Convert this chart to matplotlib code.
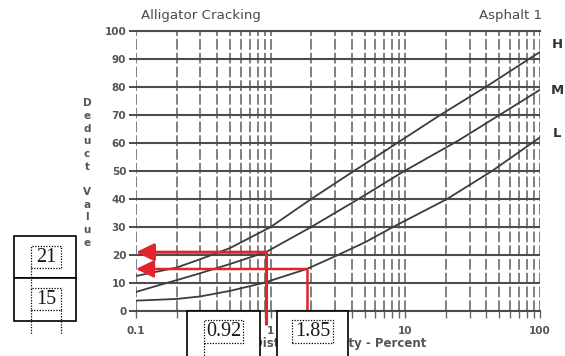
import matplotlib
matplotlib.use("Agg")
import matplotlib.pyplot as plt
from matplotlib.patches import Rectangle
from matplotlib.lines import Line2D
from matplotlib.ticker import LogLocator, NullFormatter, FixedLocator, FixedFormatter

# ---- data -------------------------------------------------------------
title_left = "Alligator Cracking"
title_right = "Asphalt 1"
x_label = "Distress Density - Percent"
y_label = "Deduct Value"

x_ticks = [0.1, 1, 10, 100]
x_tick_labels = ["0.1", "1", "10", "100"]
y_ticks = [0, 10, 20, 30, 40, 50, 60, 70, 80, 90, 100]

# deduct curves by severity (density %, deduct value)
density_H = [0.1, 0.2, 0.3, 0.5, 1, 2, 4, 8.7, 17.5, 41, 84, 100]
deduct_H = [12.5, 15.5, 18.5, 22.5, 30, 40, 49.5, 60, 69.5, 80.5, 90.2, 92.5]
density_M = [0.1, 0.15, 0.2, 0.3, 0.5, 0.92, 2, 4.6, 9.6, 25, 50, 100]
deduct_M = [6.8, 9.3, 11, 13.5, 16.8, 21, 30, 40.3, 49.7, 61, 70, 79]
density_L = [0.1, 0.2, 0.3, 0.5, 0.88, 1.85, 3, 5, 8.1, 20.4, 44, 100]
deduct_L = [3.7, 4.3, 5.2, 7.2, 10, 15, 19.5, 24.5, 30, 40, 50, 62]
severity_labels = ["H", "M", "L"]

# worked readings: density -> deduct value
read_density = [0.92, 1.85]
read_deduct = [21, 15]

# ---- figure -----------------------------------------------------------
W, H = 565, 356
fig = plt.figure(figsize=(W / 100, H / 100), dpi=100)
fig.patch.set_facecolor("white")


def fx(px):
    return px / W


def fy(py):
    return 1 - py / H


ax = fig.add_axes([fx(136), fy(311), fx(540) - fx(136), fy(31) - fy(311)])
ax.set_xscale("log")
ax.set_xlim(0.1, 100)
ax.set_ylim(0, 100)

grid_dark = "#4d4d4d"
text_grey = "#4a4a4a"
label_grey = "#555555"

# gridlines: solid horizontals, broken verticals
ax.set_yticks(y_ticks)
ax.yaxis.grid(True, color=grid_dark, lw=1.5)
ax.xaxis.set_major_locator(FixedLocator(x_ticks))
ax.xaxis.set_major_formatter(FixedFormatter(x_tick_labels))
ax.xaxis.set_minor_locator(LogLocator(base=10, subs=range(2, 10)))
ax.xaxis.set_minor_formatter(NullFormatter())
ax.xaxis.grid(True, which="both", color="#5e5e5e", lw=1.1, ls=(0, (7, 2)))
ax.set_axisbelow(True)

for side in ["left", "right"]:
    ax.spines[side].set_visible(False)
ax.spines["top"].set_color(grid_dark)
ax.spines["top"].set_linewidth(1.5)
ax.spines["bottom"].set_color(grid_dark)
ax.spines["bottom"].set_linewidth(1.5)

ax.tick_params(axis="x", which="both", direction="out", length=5, width=1.0,
               color="#666666", pad=6)
ax.tick_params(axis="y", direction="out", length=5, width=1.4,
               color=grid_dark, pad=2)
for lab in ax.get_xticklabels() + ax.get_yticklabels():
    lab.set_fontfamily("DejaVu Sans")
    lab.set_fontweight("bold")
    lab.set_fontsize(7.5)
    lab.set_color(label_grey)

# severity curves
for d, v in [(density_H, deduct_H), (density_M, deduct_M), (density_L, deduct_L)]:
    ax.plot(d, v, color="#3c3c3c", lw=1.3, zorder=3)

# reading arrows
red = "#e3242b"
for d, v, lw in zip(read_density, read_deduct, [2.2, 1.8]):
    ax.plot([d, d], [-5, v], color=red, lw=lw, clip_on=False, zorder=4,
            solid_capstyle="butt")
    ax.annotate("", xy=(ax.get_xlim()[0], v), xytext=(d, v),
                arrowprops=dict(arrowstyle="-|>,head_length=0.45,head_width=0.22",
                                color=red, lw=lw, shrinkA=0, shrinkB=0,
                                mutation_scale=24),
                zorder=5)

# titles and severity tags
fig.text(fx(141), fy(16), title_left, ha="left", va="center", fontsize=9.6,
         fontfamily="DejaVu Sans", color=text_grey)
fig.text(fx(542), fy(16), title_right, ha="right", va="center", fontsize=9.6,
         fontfamily="DejaVu Sans", color=text_grey)
for lab, ty in zip(severity_labels, [45, 90, 134]):
    fig.text(fx(557), fy(ty), lab, ha="center", va="center", fontsize=9.5,
             fontweight="bold", fontfamily="DejaVu Sans", color="#333333")

# stacked vertical axis title
stacked = "\n".join(list(y_label.split()[0]) + [""] + list(y_label.split()[1]))
fig.text(fx(87), fy(173), stacked, ha="center", va="center", fontsize=7.5,
         fontweight="bold", fontfamily="DejaVu Sans", color=label_grey,
         linespacing=1.33)

# horizontal axis title
fig.text(fx(426), fy(344), x_label, ha="right", va="center", fontsize=8.5,
         fontweight="bold", fontfamily="DejaVu Sans", color=label_grey)


# boxed value call-outs
def box(x0, y0, x1, y1, lw=1.2):
    fig.patches.append(Rectangle((fx(x0), fy(y1)), fx(x1) - fx(x0), fy(y0) - fy(y1),
                                 transform=fig.transFigure, facecolor="white",
                                 edgecolor="black", lw=lw, zorder=10))


def dotted_box(x0, y0, x1, y1):
    fig.patches.append(Rectangle((fx(x0), fy(y1)), fx(x1) - fx(x0), fy(y0) - fy(y1),
                                 transform=fig.transFigure, facecolor="none",
                                 edgecolor="black", lw=0.9, ls=(0, (1, 1.2)),
                                 zorder=11))


def dotted_line(x0, y0, x1, y1):
    fig.lines.append(Line2D([fx(x0), fx(x1)], [fy(y0), fy(y1)],
                            transform=fig.transFigure, color="black", lw=0.9,
                            ls=(0, (1, 1.2)), zorder=11))


serif = dict(fontfamily="Liberation Serif", fontsize=14.5, color="#1a1a1a",
             ha="center", va="center", zorder=12)

# deduct values on the left
box(14, 236, 76, 278)
box(14, 278, 76, 321)
dotted_box(31, 246, 61, 268)
dotted_box(31, 288, 61, 310)
dotted_line(31, 268, 31, 288)
dotted_line(31, 310, 31, 334)
dotted_line(61, 310, 61, 334)
fig.text(fx(46), fy(257), f"{read_deduct[0]}", **serif)
fig.text(fx(46), fy(299), f"{read_deduct[1]}", **serif)

# densities along the bottom
box(187, 311, 260, 362)
box(277, 311, 348, 362)
dotted_box(204, 320, 243, 343)
dotted_box(292, 320, 333, 343)
dotted_line(204, 343, 204, 360)
fig.text(fx(223.5), fy(331.5), f"{read_density[0]:.2f}", **serif)
fig.text(fx(312.5), fy(331.5), f"{read_density[1]:.2f}", **serif)

fig.savefig("out.png", dpi=100, facecolor="white")
